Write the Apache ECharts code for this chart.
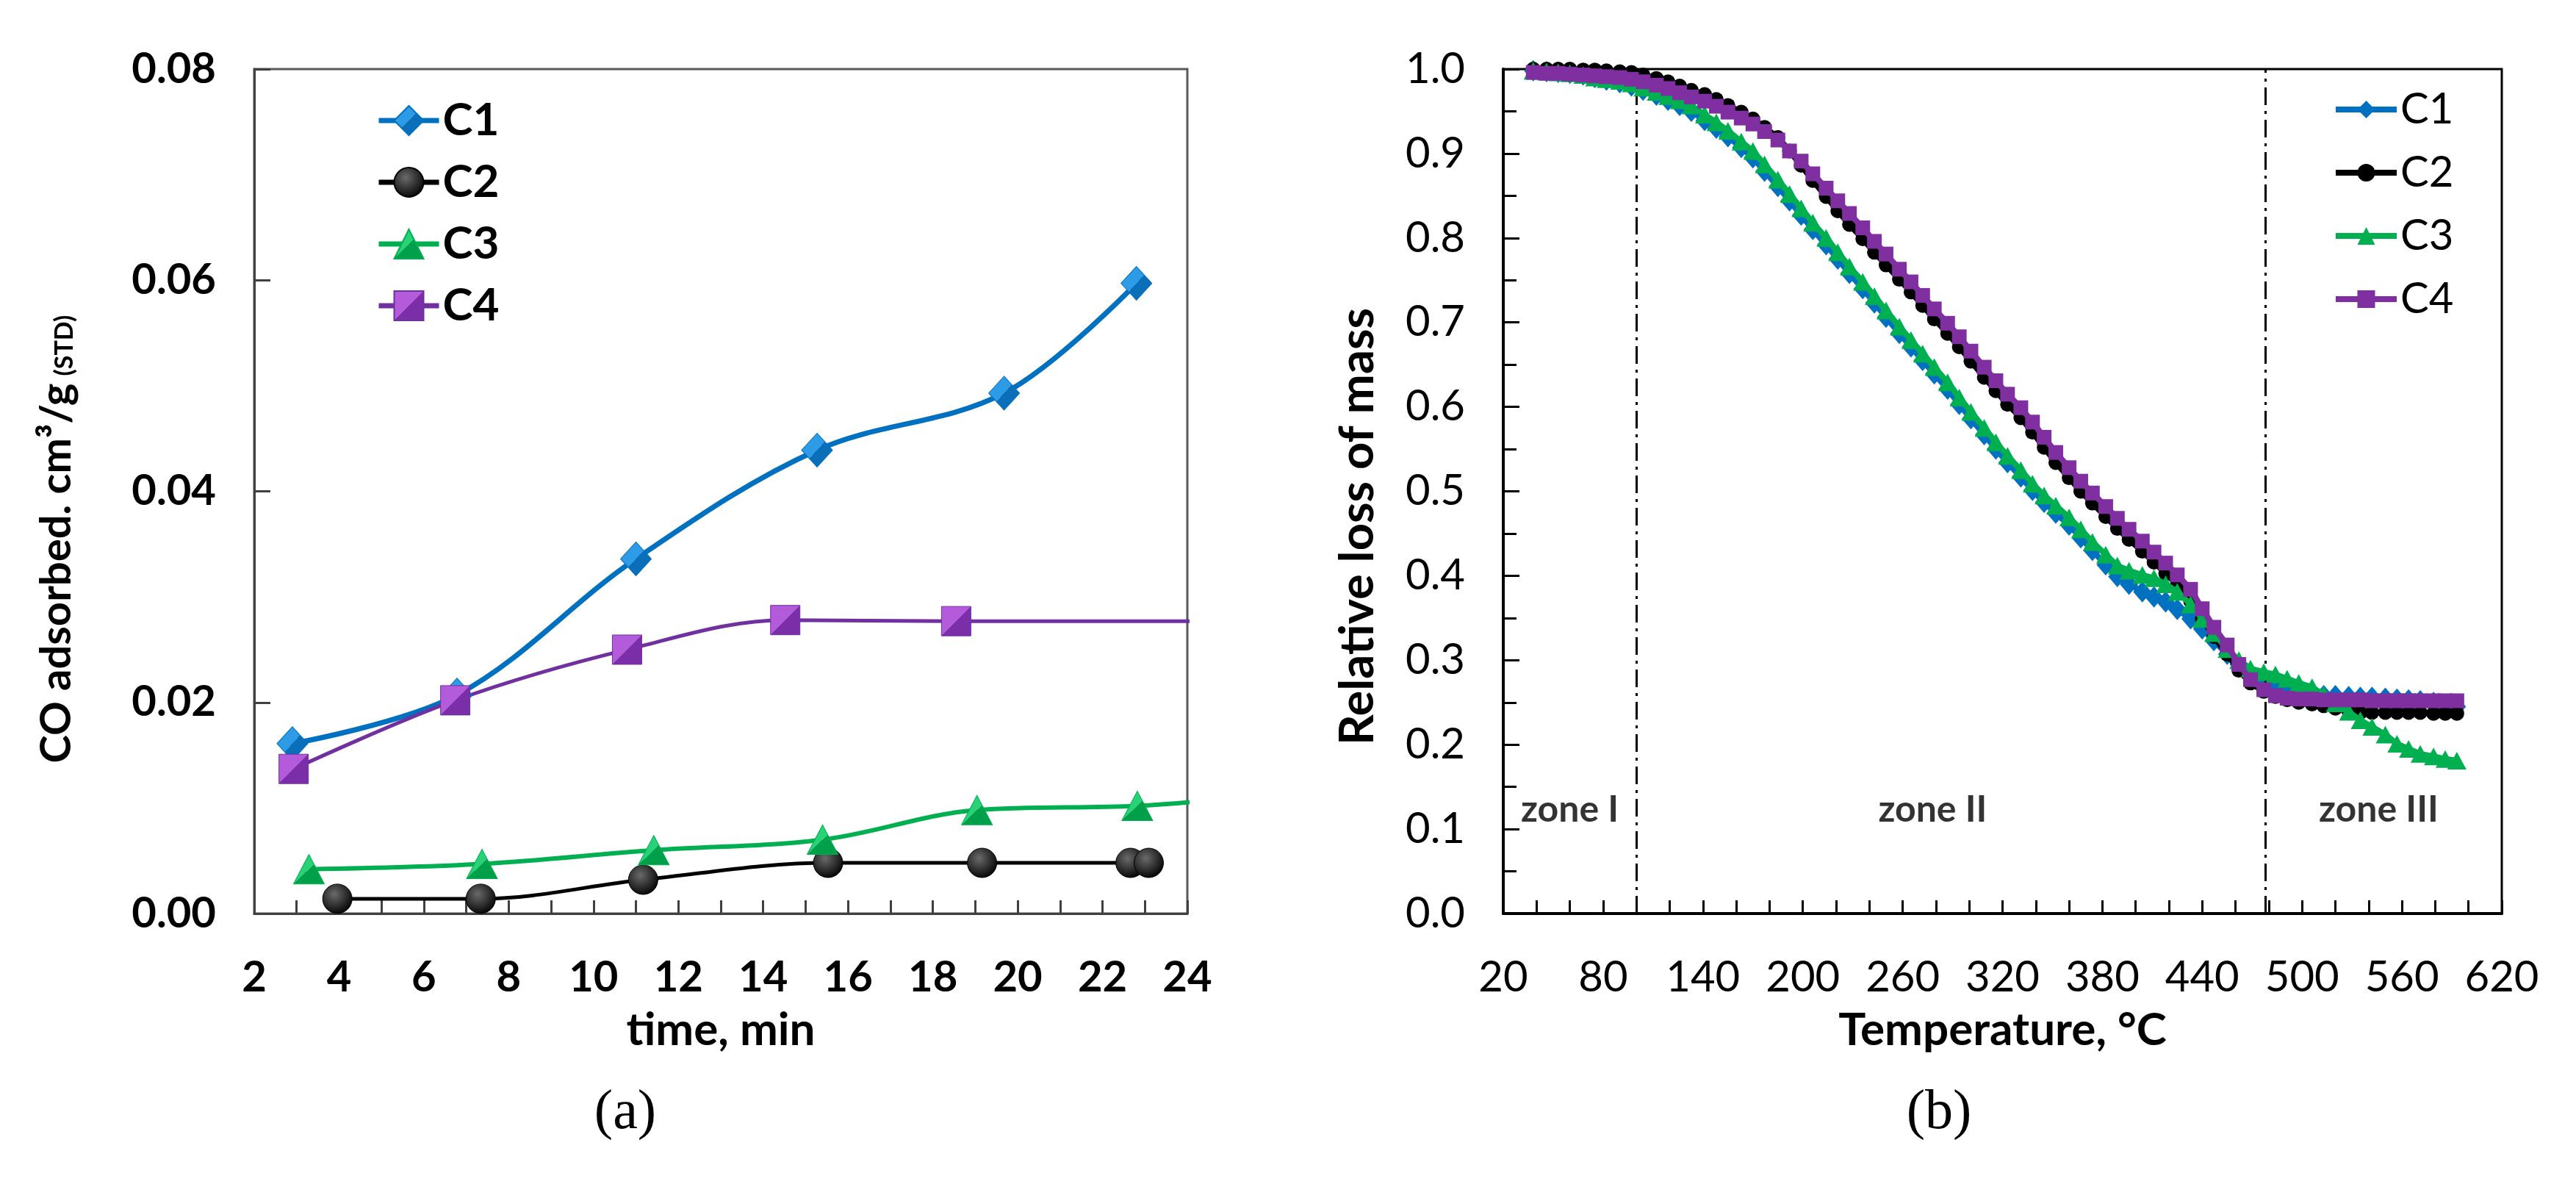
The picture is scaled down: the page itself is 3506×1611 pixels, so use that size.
<!DOCTYPE html>
<html>
<head>
<meta charset="utf-8">
<script src="https://cdn.jsdelivr.net/npm/echarts@6/dist/echarts.min.js"></script>
<style>
html,body{margin:0;padding:0;background:#fff;}
#main{width:3506px;height:1611px;}
</style>
</head>
<body>
<div id="main"></div>
<script>
// ---------- Panel (a): CO adsorption ----------
const seriesNames = ['C1', 'C2', 'C3', 'C4'];
const timeC1 = [2.9, 6.78, 11.0, 15.27, 19.68, 22.8];
const coC1   = [0.0161, 0.0207, 0.0336, 0.0439, 0.0493, 0.0597];
const timeC2 = [3.96, 7.34, 11.17, 15.53, 19.16, 22.66, 23.09];
const coC2   = [0.0014, 0.0014, 0.0032, 0.0048, 0.0048, 0.0048, 0.0048];
const timeC3 = [3.29, 7.37, 11.42, 15.4, 19.04, 22.82, 25.5];
const coC3   = [0.0042, 0.0047, 0.0060, 0.0070, 0.0098, 0.0102, 0.0111];
const timeC4 = [2.93, 6.74, 10.79, 14.52, 18.55, 25.5];
const coC4   = [0.0137, 0.0202, 0.0250, 0.0278, 0.0277, 0.0277];

// ---------- Panel (b): TGA ----------
const tempTGA = [
 38,46,53,60,68,75,82,90,97,104,112,
 119,126,133,141,148,155,163,170,177,185,192,
 199,206,214,221,228,236,243,250,258,265,272,
 279,287,294,301,309,316,323,331,338,345,352,
 360,367,374,382,389,396,404,411,418,425,433,
 440,447,455,462,469,477,484,491,498,506,513,
 520,528,535,542,550,557,564,571,579,586,593];
const massC1 = [
 .998,.997,.996,.995,.993,.990,.987,.984,.980,.975,.969,
 .963,.957,.950,.939,.930,.920,.907,.895,.879,.861,.844,
 .827,.810,.792,.775,.758,.740,.723,.706,.687,.671,.655,
 .639,.621,.603,.586,.567,.550,.534,.517,.501,.487,.474,
 .460,.445,.430,.413,.399,.390,.381,.375,.369,.360,.349,
 .337,.323,.307,.295,.284,.276,.270,.266,.263,.260,.258,
 .258,.257,.256,.256,.255,.254,.253,.252,.250,.247,.245];
const massC2 = [
 1.000,1.000,1.000,1.000,.999,.999,.998,.997,.996,.993,.989,
 .985,.980,.975,.970,.964,.957,.949,.941,.931,.919,.903,
 .886,.868,.849,.832,.816,.799,.783,.768,.751,.736,.720,
 .704,.687,.671,.654,.635,.619,.603,.587,.570,.552,.534,
 .516,.500,.486,.470,.456,.443,.429,.416,.403,.389,.370,
 .349,.328,.307,.288,.273,.263,.257,.253,.250,.248,.246,
 .243,.240,.238,.238,.238,.238,.238,.238,.237,.237,.237];
const massC3 = [
 .998,.997,.996,.995,.993,.990,.988,.986,.983,.978,.973,
 .968,.963,.957,.946,.937,.927,.914,.903,.887,.869,.852,
 .835,.818,.800,.783,.766,.748,.731,.714,.695,.679,.663,
 .647,.629,.611,.594,.575,.558,.542,.525,.509,.495,.483,
 .469,.455,.440,.425,.412,.406,.401,.397,.390,.381,.366,
 .349,.332,.313,.300,.290,.286,.283,.278,.273,.268,.259,
 .249,.239,.229,.221,.212,.201,.195,.189,.186,.183,.181];
const massC4 = [
 .996,.995,.995,.994,.993,.992,.991,.990,.988,.985,.981,
 .977,.972,.967,.962,.956,.949,.942,.935,.926,.916,.903,
 .891,.876,.859,.844,.829,.812,.796,.781,.763,.748,.732,
 .716,.699,.683,.666,.647,.631,.615,.599,.582,.564,.546,
 .528,.512,.498,.482,.468,.455,.441,.428,.415,.401,.384,
 .361,.339,.318,.295,.277,.265,.258,.255,.254,.254,.253,
 .253,.253,.253,.252,.252,.252,.252,.252,.252,.252,.252];
const zoneBounds = [100, 478];
const zoneLabels = ['zone I', 'zone II', 'zone III'];
const zoneLabelX = [60, 278, 546];
const zoneLabelY = 0.123;

const FONT = 'Lato, "Open Sans", sans-serif';
const pairs = (xs, ys) => xs.map((x, i) => [x, ys[i]]);
const lastHidden = (arr, n) => arr.map((p, i) => i >= n ? {value: p, symbol: 'none'} : p);

function grad(c1, c2) {
  return new echarts.graphic.LinearGradient(0, 0, 1, 1, [
    {offset: 0, color: c1}, {offset: 0.5, color: c1}, {offset: 0.5, color: c2}, {offset: 1, color: c2}
  ]);
}

const colA = ['#0070C0', '#000000', '#00B050', '#7030A0'];
const colB = ['#0070C0', '#000000', '#00B050', '#7F2FA0'];

const chart = echarts.init(document.getElementById('main'), null, {renderer: 'canvas'});

const leftData = [
  pairs(timeC1, coC1),
  pairs(timeC2, coC2),
  lastHidden(pairs(timeC3, coC3), 6),
  lastHidden(pairs(timeC4, coC4), 5)
];
const leftSym = ['diamond', 'circle', 'triangle', 'rect'];
const leftSize = [[42, 46], 40, [42, 40], 40];
const leftFill = [
  grad('#2E9BE6', '#0A6FB8'),
  new echarts.graphic.RadialGradient(0.4, 0.35, 0.7, [{offset: 0, color: '#6a6a6a'}, {offset: 1, color: '#000'}]),
  grad('#29D277', '#00A04A'),
  grad('#B45BDB', '#7A2FA8')
];
const leftWidth = [7, 5, 6, 5];

const rightData = [massC1, massC2, massC3, massC4].map(m => pairs(tempTGA, m));
const rightSym = ['diamond', 'circle', 'triangle', 'rect'];
const rightSize = [[25, 29], 20, [26, 24], 20];

const series = [];
seriesNames.forEach((n, i) => {
  series.push({
    name: n, type: 'line', xAxisIndex: 0, yAxisIndex: 0,
    data: leftData[i], smooth: 0.35, clip: true,
    symbol: leftSym[i], symbolSize: leftSize[i],
    lineStyle: {color: colA[i], width: leftWidth[i]},
    itemStyle: {color: leftFill[i], borderColor: colA[i], borderWidth: 1},
    z: 3, animation: false
  });
});
seriesNames.forEach((n, i) => {
  const s = {
    name: n + ' ', type: 'line', xAxisIndex: 1, yAxisIndex: 1,
    data: rightData[i], smooth: false,
    symbol: rightSym[i], symbolSize: rightSize[i],
    lineStyle: {color: colB[i], width: 8},
    itemStyle: {color: colB[i]},
    z: 3 + i, animation: false
  };
  if (i === 0) {
    s.markLine = {
      silent: true, symbol: 'none', animation: false,
      label: {show: false},
      lineStyle: {color: '#000', width: 3, type: [24, 8, 4, 8]},
      data: zoneBounds.map(v => ({xAxis: v}))
    };
  }
  series.push(s);
});
series.push({
  type: 'scatter', xAxisIndex: 1, yAxisIndex: 1, silent: true,
  symbolSize: 1, itemStyle: {color: 'rgba(0,0,0,0)'},
  data: zoneLabels.map((t, i) => ({value: [zoneLabelX[i], zoneLabelY], name: t})),
  label: {show: true, position: 'inside', formatter: p => p.name,
    color: '#000', fontFamily: FONT, fontWeight: 'bold', fontSize: 50},
  animation: false
});

const option = {
  backgroundColor: '#fff',
  animation: false,
  textStyle: {fontFamily: FONT},
  grid: [
    {left: 346, top: 94, width: 1270, height: 1149, show: true, borderColor: '#595959', borderWidth: 3, backgroundColor: 'transparent'},
    {left: 2046, top: 94, width: 1359, height: 1149, show: true, borderColor: '#000', borderWidth: 3, backgroundColor: 'transparent'}
  ],
  legend: [
    {data: seriesNames, orient: 'vertical', left: 507, top: 128,
      itemWidth: 82, itemHeight: 50, itemGap: 22,
      lineStyle: {width: 7},
      textStyle: {fontFamily: FONT, fontWeight: 'bold', fontSize: 62, color: '#000'}},
    {data: seriesNames.map(n => n + ' '), orient: 'vertical', left: 3170, top: 115,
      itemWidth: 83, itemHeight: 30, itemGap: 28,
      lineStyle: {width: 8},
      formatter: n => n.trim(),
      textStyle: {fontFamily: FONT, fontSize: 58, color: '#000'}}
  ],
  xAxis: [
    {gridIndex: 0, type: 'value', min: 2, max: 24, interval: 2,
      name: 'time, min', nameLocation: 'middle', nameGap: 128,
      nameTextStyle: {fontFamily: FONT, fontWeight: 'bold', fontSize: 62, color: '#000'},
      axisLine: {show: true, onZero: false, lineStyle: {color: '#404040', width: 3}},
      axisTick: {show: true, inside: true, length: 18, lineStyle: {color: '#404040', width: 3}},
      minorTick: {show: true, splitNumber: 2, length: 18, lineStyle: {color: '#404040', width: 3}},
      axisLabel: {margin: 58, fontFamily: FONT, fontWeight: 'bold', fontSize: 58, color: '#000'},
      splitLine: {show: false}},
    {gridIndex: 1, type: 'value', min: 20, max: 620, interval: 60,
      name: 'Temperature, °C', nameLocation: 'middle', nameGap: 128,
      nameTextStyle: {fontFamily: FONT, fontWeight: 'bold', fontSize: 62, color: '#000'},
      axisLine: {show: true, onZero: false, lineStyle: {color: '#000', width: 4}},
      axisTick: {show: true, inside: true, length: 18, lineStyle: {color: '#000', width: 3}},
      minorTick: {show: true, splitNumber: 3, length: 18, lineStyle: {color: '#000', width: 3}},
      axisLabel: {margin: 58, fontFamily: FONT, fontSize: 58, color: '#000'},
      splitLine: {show: false}}
  ],
  yAxis: [
    {gridIndex: 0, type: 'value', min: 0, max: 0.08, interval: 0.02,
      name: 'CO adsorbed. cm³/g{sub|(STD)}', nameLocation: 'middle', nameGap: 240,
      nameTextStyle: {fontFamily: FONT, fontWeight: 'bold', fontSize: 58, color: '#000',
        padding: [0, 130, 0, 0],
        rich: {sub: {fontFamily: FONT, fontWeight: 'bold', fontSize: 34, color: '#000', padding: [22, 0, 0, 10]}}},
      axisLine: {show: true, onZero: false, lineStyle: {color: '#404040', width: 3}},
      axisTick: {show: true, inside: true, length: 22, lineStyle: {color: '#404040', width: 3}},
      axisLabel: {margin: 52, fontFamily: FONT, fontWeight: 'bold', fontSize: 58, color: '#000',
        formatter: v => v.toFixed(2)},
      splitLine: {show: false}},
    {gridIndex: 1, type: 'value', min: 0, max: 1.0, interval: 0.1,
      name: 'Relative loss of mass', nameLocation: 'middle', nameGap: 165,
      nameTextStyle: {fontFamily: FONT, fontWeight: 'bold', fontSize: 65, color: '#000',
        padding: [0, 96, 0, 0]},
      axisLine: {show: true, onZero: false, lineStyle: {color: '#000', width: 4}},
      axisTick: {show: true, inside: true, length: 22, lineStyle: {color: '#000', width: 3}},
      minorTick: {show: true, splitNumber: 2, length: 18, lineStyle: {color: '#000', width: 3}},
      axisLabel: {margin: 52, fontFamily: FONT, fontSize: 58, color: '#000',
        formatter: v => v.toFixed(1)},
      splitLine: {show: false}}
  ],
  graphic: [
    {type: 'text', x: 851, y: 1515, style: {text: '(a)', fontFamily: '"Liberation Serif", serif', fontSize: 76, fill: '#000', textAlign: 'center', textVerticalAlign: 'middle'}},
    {type: 'text', x: 2639, y: 1515, style: {text: '(b)', fontFamily: '"Liberation Serif", serif', fontSize: 76, fill: '#000', textAlign: 'center', textVerticalAlign: 'middle'}}
  ],
  series: series
};
chart.setOption(option);
</script>
</body>
</html>
